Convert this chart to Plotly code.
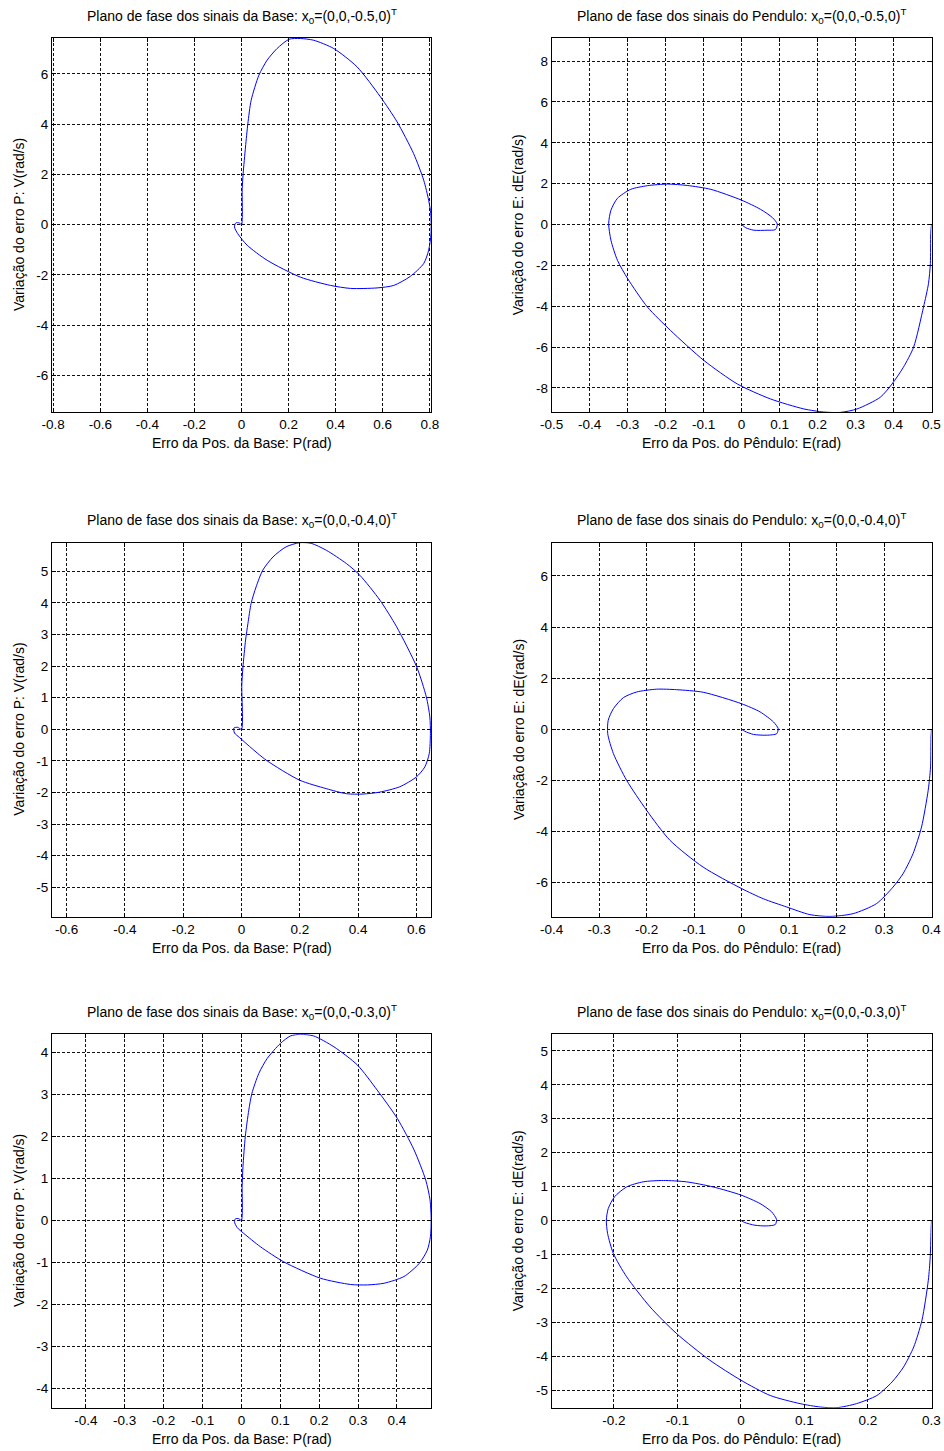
import plotly.graph_objects as go

W, H = 944, 1451

# ---------------- data ----------------
base05_P = [0, 0.003, 0.007, 0.017, 0.027, 0.041, 0.074, 0.109, 0.151, 0.202, 0.25, 0.307, 0.392, 0.491, 0.59, 0.661,
            0.731, 0.774, 0.795, 0.804, 0.805, 0.795, 0.774, 0.717, 0.647, 0.576, 0.463, 0.378, 0.25, 0.109, 0.024,
            -0.016, -0.030, -0.024, -0.01, 0]
base05_V = [0, 1.43, 2.03, 3.09, 4.02, 4.95, 5.95, 6.55, 7.01, 7.38, 7.41, 7.34, 7.01, 6.28, 5.09, 4.09,
            2.83, 1.77, 0.97, 0.44, -0.36, -1.02, -1.55, -2.06, -2.42, -2.52, -2.54, -2.42, -2.09, -1.42, -0.82,
            -0.36, -0.09, 0.07, 0.07, 0]

pend05_E = [0.5, 0.498, 0.497, 0.492, 0.479, 0.453, 0.426, 0.396, 0.365, 0.304, 0.26, 0.216, 0.164, 0.076, -0.011,
            -0.099, -0.187, -0.248, -0.300, -0.327, -0.344, -0.350, -0.344, -0.327, -0.292, -0.248, -0.195, -0.143,
            -0.081, 0, 0.05, 0.081, 0.094, 0.089, 0.067, 0.032, 0.011, 0]
pend05_dE = [0, -0.44, -1.91, -2.9, -4.04, -6.0, -6.99, -7.81, -8.46, -9.03, -9.2, -9.18, -9.03, -8.54, -7.81,
             -6.66, -5.19, -4.04, -2.65, -1.75, -0.77, 0.05, 0.70, 1.28, 1.72, 1.90, 1.98, 1.91,
             1.72, 1.19, 0.74, 0.34, 0.02, -0.25, -0.28, -0.28, -0.16, 0]

base04_P = [0, 0.001, 0.005, 0.014, 0.022, 0.033, 0.05, 0.073, 0.108, 0.153, 0.199, 0.239, 0.291, 0.36, 0.406,
            0.475, 0.532, 0.601, 0.634, 0.646, 0.648, 0.644, 0.629, 0.6, 0.543, 0.474, 0.417, 0.36, 0.291, 0.199,
            0.085, 0.027, -0.007, -0.024, -0.026, -0.013, 0]
base04_V = [0, 1.39, 1.97, 2.82, 3.34, 3.98, 4.5, 5.03, 5.45, 5.77, 5.9, 5.88, 5.66, 5.24, 4.87,
            4.08, 3.24, 1.97, 1.02, 0.39, -0.14, -0.77, -1.19, -1.51, -1.82, -1.99, -2.05, -2.04, -1.88, -1.61,
            -0.98, -0.54, -0.26, -0.12, 0.04, 0.06, 0]

pend04_E = [0.4, 0.399, 0.398, 0.393, 0.379, 0.361, 0.34, 0.319, 0.284, 0.235, 0.186, 0.144, 0.095, 0.046, 0,
            -0.081, -0.151, -0.2, -0.242, -0.27, -0.282, -0.281, -0.27, -0.249, -0.221, -0.179, -0.137, -0.081,
            0, 0.039, 0.067, 0.077, 0.074, 0.053, 0.025, 0.007, 0]
pend04_dE = [0, -0.3, -1.47, -2.39, -3.82, -4.87, -5.65, -6.17, -6.82, -7.21, -7.32, -7.25, -6.95, -6.63, -6.23,
             -5.39, -4.34, -3.17, -2.0, -0.95, -0.17, 0.35, 0.81, 1.24, 1.46, 1.57, 1.55, 1.45,
             1.0, 0.68, 0.29, 0.03, -0.17, -0.23, -0.2, -0.08, 0]

base03_P = [0, 0.002, 0.004, 0.01, 0.019, 0.027, 0.045, 0.066, 0.1, 0.126, 0.152, 0.186, 0.238, 0.298, 0.349,
            0.401, 0.444, 0.474, 0.485, 0.488, 0.486, 0.478, 0.457, 0.418, 0.367, 0.324, 0.281, 0.203, 0.109,
            0.049, 0.006, -0.011, -0.018, -0.015, -0.007, 0]
base03_V = [0, 0.84, 1.28, 2.0, 2.63, 3.03, 3.51, 3.86, 4.22, 4.40, 4.44, 4.40, 4.14, 3.71, 3.11,
            2.43, 1.68, 0.96, 0.49, 0.01, -0.39, -0.71, -1.03, -1.34, -1.5, -1.54, -1.53, -1.38, -0.99,
            -0.63, -0.31, -0.17, -0.03, 0.04, 0.04, 0]

pend03_E = [0.3, 0.2995, 0.298, 0.295, 0.285, 0.272, 0.256, 0.238, 0.214, 0.182, 0.151, 0.125, 0.093, 0.046, 0,
            -0.049, -0.101, -0.143, -0.18, -0.201, -0.21, -0.212, -0.209, -0.199, -0.18, -0.154, -0.122, -0.086,
            -0.044, 0, 0.03, 0.048, 0.056, 0.054, 0.04, 0.022, 0.006, 0]
pend03_dE = [0, -0.19, -1.07, -1.76, -2.94, -3.73, -4.32, -4.76, -5.16, -5.40, -5.52, -5.5, -5.40, -5.16, -4.71,
             -4.12, -3.34, -2.55, -1.66, -0.97, -0.38, 0.01, 0.35, 0.70, 0.99, 1.14, 1.18, 1.14,
             0.99, 0.75, 0.5, 0.26, 0.03, -0.12, -0.16, -0.14, -0.06, 0]

# axis limits
xlim = [[-0.805, 0.805], [-0.5, 0.5], [-0.65, 0.65], [-0.4, 0.4], [-0.487, 0.4875], [-0.298, 0.3]]
ylim = [[-7.46, 7.43], [-9.18, 9.13], [-5.93, 5.9], [-7.33, 7.3], [-4.47, 4.44], [-5.52, 5.49]]

# tick labels
xticks = [[-0.8, -0.6, -0.4, -0.2, 0, 0.2, 0.4, 0.6, 0.8],
          [-0.5, -0.4, -0.3, -0.2, -0.1, 0, 0.1, 0.2, 0.3, 0.4, 0.5],
          [-0.6, -0.4, -0.2, 0, 0.2, 0.4, 0.6],
          [-0.4, -0.3, -0.2, -0.1, 0, 0.1, 0.2, 0.3, 0.4],
          [-0.4, -0.3, -0.2, -0.1, 0, 0.1, 0.2, 0.3, 0.4],
          [-0.2, -0.1, 0, 0.1, 0.2, 0.3]]
yticks = [[-6, -4, -2, 0, 2, 4, 6],
          [-8, -6, -4, -2, 0, 2, 4, 6, 8],
          [-5, -4, -3, -2, -1, 0, 1, 2, 3, 4, 5],
          [-6, -4, -2, 0, 2, 4, 6],
          [-4, -3, -2, -1, 0, 1, 2, 3, 4],
          [-5, -4, -3, -2, -1, 0, 1, 2, 3, 4, 5]]

x0_values = ["-0.5", "-0.5", "-0.4", "-0.4", "-0.3", "-0.3"]
title_base = "Plano de fase dos sinais da Base: x<sub>0</sub>=(0,0,{},0)<sup>T</sup>"
title_pend = "Plano de fase dos sinais do Pendulo: x<sub>0</sub>=(0,0,{},0)<sup>T</sup>"
xlabel_base = "Erro da Pos. da Base: P(rad)"
xlabel_pend = "Erro da Pos. do Pêndulo: E(rad)"
ylabel_base = "Variação do erro P: V(rad/s)"
ylabel_pend = "Variação do erro E: dE(rad/s)"

series = [(base05_P, base05_V), (pend05_E, pend05_dE), (base04_P, base04_V),
          (pend04_E, pend04_dE), (base03_P, base03_V), (pend03_E, pend03_dE)]

# ---------------- layout geometry (pixels) ----------------
cols = [(52, 431), (551.7, 931.5)]
rows = [(38, 412), (542.7, 916.7), (1034.3, 1407.7)]
title_y = [15.7, 520, 1011.7]
xlab_y = [442.7, 947.7, 1438.7]
ylab_x = [19, 518.3]

FONT = "Liberation Sans, Arial, sans-serif"

def fmt(v):
    return "%g" % v

fig = go.Figure()
annotations = []
for i, (xs, ys) in enumerate(series):
    r, c = divmod(i, 2)
    n = "" if i == 0 else str(i + 1)
    fig.add_trace(go.Scatter(x=xs, y=ys, mode="lines", xaxis="x" + n, yaxis="y" + n,
                             line=dict(color="#0000FF", width=1, shape="spline", smoothing=0.7),
                             showlegend=False, hoverinfo="x+y"))
    x0p, x1p = cols[c]
    y0p, y1p = rows[r]
    axcommon = dict(showline=True, linecolor="black", linewidth=1, mirror="ticks", ticks="inside",
                    ticklen=4, tickcolor="black", showgrid=True, gridcolor="#111111", gridwidth=1,
                    griddash="3px,2px", zeroline=False, automargin=False,
                    tickfont=dict(family=FONT, size=13.5, color="black"))
    fig.layout["xaxis" + n] = dict(domain=[x0p / W, x1p / W], range=xlim[i], anchor="y" + n,
                                   tickmode="array", tickvals=xticks[i], ticktext=[fmt(v) for v in xticks[i]],
                                   **axcommon)
    fig.layout["yaxis" + n] = dict(domain=[1 - y1p / H, 1 - y0p / H], range=ylim[i], anchor="x" + n,
                                   tickmode="array", tickvals=yticks[i], ticktext=[fmt(v) for v in yticks[i]],
                                   **axcommon)
    cx = (x0p + x1p) / 2 / W
    ttl = (title_base if c == 0 else title_pend).format(x0_values[i])
    annotations.append(dict(text=ttl, x=cx, y=1 - title_y[r] / H, xref="paper", yref="paper",
                            showarrow=False, xanchor="center", yanchor="middle",
                            font=dict(family=FONT, size=14, color="black")))
    annotations.append(dict(text=xlabel_base if c == 0 else xlabel_pend, x=cx, y=1 - xlab_y[r] / H,
                            xref="paper", yref="paper", showarrow=False, xanchor="center", yanchor="middle",
                            font=dict(family=FONT, size=14, color="black")))
    annotations.append(dict(text=ylabel_base if c == 0 else ylabel_pend, x=ylab_x[c] / W,
                            y=1 - (y0p + y1p) / 2 / H, xref="paper", yref="paper", showarrow=False,
                            xanchor="center", yanchor="middle", textangle=-90,
                            font=dict(family=FONT, size=14, color="black")))

fig.update_layout(width=W, height=H, margin=dict(l=0, r=0, t=0, b=0, autoexpand=False),
                  paper_bgcolor="white", plot_bgcolor="white", annotations=annotations, showlegend=False)

fig.write_html("out.html")
